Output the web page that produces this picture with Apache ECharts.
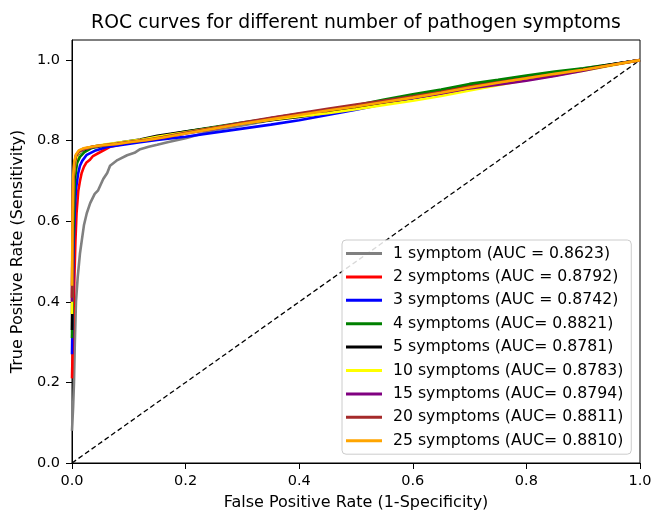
<!DOCTYPE html>
<html>
<head>
<meta charset="utf-8">
<script src="https://cdn.jsdelivr.net/npm/echarts@6.0.0/dist/echarts.min.js"></script>
<style>
html,body{margin:0;padding:0;background:#fff;}
#chart{width:655px;height:512px;}
</style>
</head>
<body>
<div id="chart"></div>
<script>
// ---- Data ----
var titleText = 'ROC curves for different number of pathogen symptoms';
var xAxisName = 'False Positive Rate (1-Specificity)';
var yAxisName = 'True Positive Rate (Sensitivity)';
var tickValues = [0, 0.2, 0.4, 0.6, 0.8, 1.0];

var seriesNames = [
  '1 symptom (AUC = 0.8623)',
  '2 symptoms (AUC = 0.8792)',
  '3 symptoms (AUC = 0.8742)',
  '4 symptoms (AUC= 0.8821)',
  '5 symptoms (AUC= 0.8781)',
  '10 symptoms (AUC= 0.8783)',
  '15 symptoms (AUC= 0.8794)',
  '20 symptoms (AUC= 0.8811)',
  '25 symptoms (AUC= 0.8810)'
];
var seriesColors = ['#808080', '#ff0000', '#0000ff', '#008000', '#000000', '#ffff00', '#800080', '#a52a2a', '#ffa500'];

// False positive rates / true positive rates for each curve
var fpr1 = [0, 0.002, 0.0035, 0.005, 0.007, 0.01, 0.014, 0.017, 0.021, 0.026, 0.032, 0.04, 0.046, 0.055, 0.062, 0.067, 0.08, 0.097, 0.11, 0.12, 0.135, 0.15, 0.17, 0.2, 0.25, 0.3, 0.35, 0.4, 0.45, 0.5, 0.55, 0.6, 0.65, 0.7, 0.75, 0.8, 0.85, 0.9, 0.95, 1.0];
var tpr1 = [0.08, 0.14, 0.2, 0.3, 0.4, 0.46, 0.52, 0.55, 0.59, 0.62, 0.645, 0.668, 0.677, 0.705, 0.72, 0.738, 0.752, 0.764, 0.77, 0.779, 0.785, 0.79, 0.797, 0.806, 0.826, 0.838, 0.851, 0.863, 0.874, 0.885, 0.896, 0.905, 0.917, 0.93, 0.944, 0.956, 0.968, 0.979, 0.99, 1.0];

var fpr2 = [0, 0.002, 0.004, 0.006, 0.008, 0.011, 0.014, 0.017, 0.021, 0.025, 0.031, 0.037, 0.05, 0.067, 0.09, 0.12, 0.15, 0.2, 0.25, 0.3, 0.35, 0.4, 0.45, 0.5, 0.55, 0.6, 0.65, 0.7, 0.75, 0.8, 0.85, 0.9, 0.95, 1.0];
var tpr2 = [0.21, 0.33, 0.45, 0.55, 0.62, 0.675, 0.7, 0.72, 0.735, 0.745, 0.752, 0.762, 0.772, 0.785, 0.792, 0.8, 0.809, 0.82, 0.831, 0.843, 0.854, 0.865, 0.876, 0.887, 0.899, 0.911, 0.924, 0.937, 0.948, 0.958, 0.968, 0.978, 0.989, 1.0];

var fpr3 = [0, 0.0015, 0.003, 0.005, 0.007, 0.011, 0.014, 0.018, 0.026, 0.04, 0.06, 0.09, 0.12, 0.15, 0.2, 0.25, 0.3, 0.35, 0.4, 0.45, 0.5, 0.55, 0.6, 0.65, 0.7, 0.75, 0.8, 0.85, 0.9, 0.95, 1.0];
var tpr3 = [0.27, 0.42, 0.55, 0.63, 0.68, 0.72, 0.738, 0.75, 0.765, 0.775, 0.784, 0.79, 0.796, 0.802, 0.81, 0.82, 0.83, 0.84, 0.851, 0.864, 0.877, 0.891, 0.905, 0.918, 0.932, 0.944, 0.955, 0.966, 0.977, 0.989, 1.0];

var fpr4 = [0, 0.001, 0.002, 0.004, 0.005, 0.007, 0.009, 0.014, 0.022, 0.035, 0.06, 0.09, 0.12, 0.15, 0.2, 0.25, 0.3, 0.35, 0.4, 0.45, 0.5, 0.55, 0.6, 0.65, 0.7, 0.75, 0.8, 0.85, 0.9, 0.95, 1.0];
var tpr4 = [0.31, 0.42, 0.55, 0.65, 0.7, 0.725, 0.745, 0.76, 0.772, 0.782, 0.789, 0.795, 0.801, 0.81, 0.823, 0.834, 0.845, 0.855, 0.865, 0.876, 0.888, 0.902, 0.915, 0.927, 0.941, 0.951, 0.962, 0.972, 0.98, 0.99, 1.0];

var fpr5 = [0, 0.001, 0.002, 0.003, 0.006, 0.01, 0.016, 0.025, 0.04, 0.06, 0.09, 0.12, 0.15, 0.2, 0.25, 0.3, 0.35, 0.4, 0.45, 0.5, 0.55, 0.6, 0.65, 0.7, 0.75, 0.8, 0.85, 0.9, 0.95, 1.0];
var tpr5 = [0.33, 0.55, 0.64, 0.7, 0.745, 0.765, 0.775, 0.78, 0.786, 0.79, 0.797, 0.803, 0.812, 0.823, 0.833, 0.843, 0.851, 0.859, 0.87, 0.882, 0.895, 0.907, 0.919, 0.931, 0.941, 0.952, 0.962, 0.977, 0.989, 1.0];

var fpr10 = [0, 0.001, 0.002, 0.003, 0.006, 0.01, 0.016, 0.025, 0.04, 0.06, 0.09, 0.12, 0.15, 0.2, 0.25, 0.3, 0.35, 0.4, 0.45, 0.5, 0.55, 0.6, 0.65, 0.7, 0.75, 0.8, 0.85, 0.9, 0.95, 1.0];
var tpr10 = [0.37, 0.56, 0.66, 0.71, 0.748, 0.766, 0.776, 0.781, 0.786, 0.791, 0.797, 0.802, 0.81, 0.821, 0.832, 0.843, 0.852, 0.861, 0.868, 0.878, 0.889, 0.899, 0.911, 0.925, 0.938, 0.951, 0.962, 0.974, 0.987, 1.0];

var fpr15 = [0, 0.001, 0.002, 0.004, 0.007, 0.012, 0.02, 0.035, 0.05, 0.08, 0.1, 0.13, 0.16, 0.2, 0.25, 0.3, 0.35, 0.4, 0.45, 0.5, 0.55, 0.6, 0.65, 0.7, 0.75, 0.8, 0.85, 0.9, 0.95, 1.0];
var tpr15 = [0.4, 0.58, 0.69, 0.74, 0.762, 0.773, 0.779, 0.784, 0.787, 0.792, 0.796, 0.801, 0.807, 0.818, 0.829, 0.843, 0.856, 0.867, 0.876, 0.886, 0.896, 0.906, 0.917, 0.93, 0.939, 0.949, 0.961, 0.974, 0.988, 1.0];

var fpr20 = [0, 0.001, 0.002, 0.004, 0.007, 0.012, 0.02, 0.035, 0.05, 0.08, 0.1, 0.13, 0.16, 0.2, 0.25, 0.3, 0.35, 0.4, 0.45, 0.5, 0.55, 0.6, 0.65, 0.7, 0.75, 0.8, 0.85, 0.9, 0.95, 1.0];
var tpr20 = [0.41, 0.6, 0.7, 0.743, 0.764, 0.774, 0.78, 0.785, 0.788, 0.793, 0.797, 0.802, 0.809, 0.82, 0.832, 0.845, 0.857, 0.868, 0.879, 0.89, 0.9, 0.91, 0.921, 0.934, 0.945, 0.955, 0.965, 0.976, 0.988, 1.0];

var fpr25 = [0, 0.001, 0.002, 0.004, 0.007, 0.012, 0.02, 0.035, 0.05, 0.08, 0.1, 0.13, 0.16, 0.2, 0.25, 0.3, 0.35, 0.4, 0.45, 0.5, 0.55, 0.6, 0.65, 0.7, 0.75, 0.8, 0.85, 0.9, 0.95, 1.0];
var tpr25 = [0.44, 0.62, 0.71, 0.748, 0.766, 0.776, 0.781, 0.785, 0.788, 0.792, 0.796, 0.801, 0.808, 0.818, 0.83, 0.842, 0.853, 0.864, 0.875, 0.885, 0.896, 0.907, 0.919, 0.932, 0.944, 0.955, 0.966, 0.976, 0.988, 1.0];

var diagFpr = [0, 1];
var diagTpr = [0, 1];

// ---- Build ----
var fprs = [fpr1, fpr2, fpr3, fpr4, fpr5, fpr10, fpr15, fpr20, fpr25];
var tprs = [tpr1, tpr2, tpr3, tpr4, tpr5, tpr10, tpr15, tpr20, tpr25];

function pairs(xs, ys) {
  var out = [];
  for (var i = 0; i < xs.length; i++) out.push([xs[i], ys[i]]);
  return out;
}

var FONT = 'DejaVu Sans';
var series = [];
for (var i = 0; i < seriesNames.length; i++) {
  series.push({
    name: seriesNames[i],
    type: 'line',
    data: pairs(fprs[i], tprs[i]),
    showSymbol: false,
    symbol: 'none',
    smooth: false,
    lineStyle: { color: seriesColors[i], width: 2.6 },
    itemStyle: { color: seriesColors[i] },
    z: 3 + i,
    animation: false
  });
}
series.push({
  name: 'diag',
  type: 'line',
  data: pairs(diagFpr, diagTpr),
  showSymbol: false,
  symbol: 'none',
  lineStyle: { color: '#000', width: 1.3, type: [5, 3] },
  z: 2,
  animation: false,
  silent: true
});

var chart = echarts.init(document.getElementById('chart'), null, { renderer: 'canvas' });
chart.setOption({
  animation: false,
  backgroundColor: '#fff',
  title: {
    text: titleText,
    left: 351,
    textAlign: 'center',
    top: 9,
    textStyle: { fontFamily: FONT, fontSize: 18.8, fontWeight: 'normal', color: '#000' }
  },
  grid: {
    left: 72, right: 15, top: 40, bottom: 49,
    containLabel: false,
    outerBoundsMode: 'none',
    show: true, borderColor: '#000', borderWidth: 1, backgroundColor: 'transparent'
  },
  legend: {
    data: seriesNames,
    orient: 'vertical',
    left: 342,
    top: 240,
    padding: [5, 8, 5, 4],
    itemWidth: 36,
    itemHeight: 3,
    itemGap: 6.4,
    icon: 'rect',
    backgroundColor: 'rgba(255,255,255,0.85)',
    borderColor: '#cccccc',
    borderWidth: 1,
    borderRadius: 4,
    textStyle: { fontFamily: FONT, fontSize: 15.7, color: '#000', lineHeight: 17, padding: [0, 0, 0, 6] }
  },
  xAxis: {
    type: 'value',
    min: 0, max: 1, interval: 0.2,
    name: xAxisName,
    nameLocation: 'middle',
    nameGap: 32,
    nameTextStyle: { fontFamily: FONT, fontSize: 16, color: '#000' },
    axisLine: { show: true, onZero: false, lineStyle: { color: '#000', width: 1 } },
    axisTick: { show: true, length: 6, lineStyle: { color: '#000' } },
    axisLabel: { fontFamily: FONT, fontSize: 14.5, color: '#000', margin: 11, formatter: function (v) { return v.toFixed(1); } },
    splitLine: { show: false }
  },
  yAxis: {
    type: 'value',
    min: 0, max: 1.05, interval: 0.2,
    name: yAxisName,
    nameLocation: 'middle',
    nameGap: 43,
    nameTextStyle: { fontFamily: FONT, fontSize: 16, color: '#000' },
    axisLine: { show: true, onZero: false, lineStyle: { color: '#000', width: 1 } },
    axisTick: { show: true, length: 6, lineStyle: { color: '#000' }, customValues: tickValues },
    axisLabel: { fontFamily: FONT, fontSize: 14.5, color: '#000', margin: 12, customValues: tickValues, formatter: function (v) { return v.toFixed(1); } },
    splitLine: { show: false }
  },
  series: series
});
</script>
</body>
</html>
